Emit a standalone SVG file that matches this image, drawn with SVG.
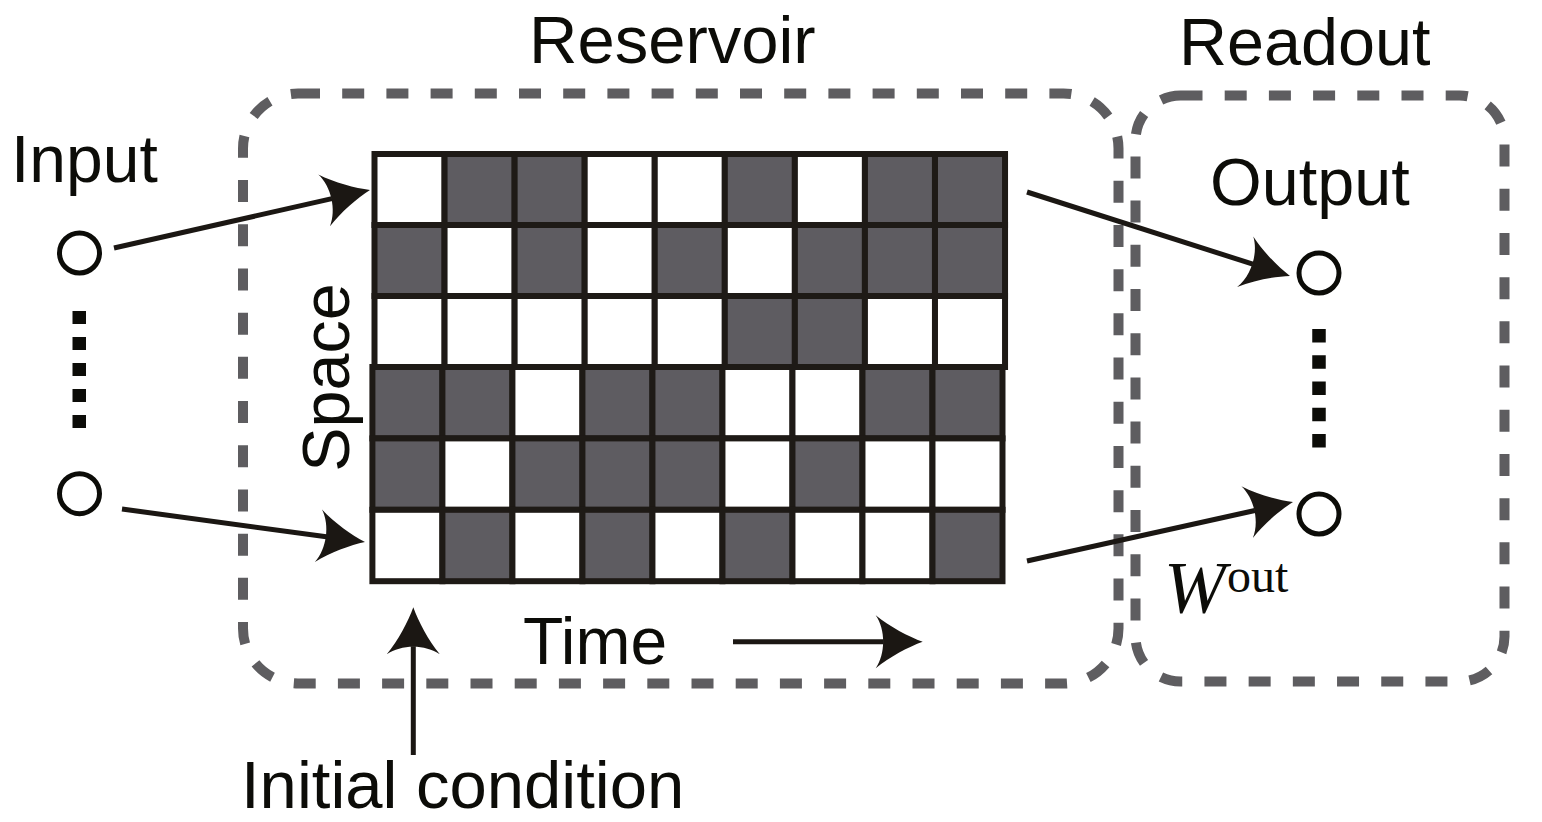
<svg xmlns="http://www.w3.org/2000/svg" width="1542" height="822" viewBox="0 0 1542 822">
<defs>
<style>
.txt{font-family:"Liberation Sans",Arial,sans-serif;fill:#0c0c08}
.box{fill:none;stroke:#5e5d60;stroke-width:10;stroke-dasharray:22 22.2}
.cw{fill:#ffffff;stroke:#1e1a16;stroke-width:6}
.cd{fill:#5e5c61;stroke:#1e1a16;stroke-width:6}
.arr{fill:none;stroke:#1b1713;stroke-width:5;marker-end:url(#ah)}
.node{fill:#ffffff;stroke:#0c0c08;stroke-width:5}
.dots{fill:none;stroke:#0c0c08;stroke-width:13.5}
.serif{font-family:"Liberation Serif","Times New Roman",serif;fill:#0c0c08}
</style>
<marker id="ah" markerUnits="userSpaceOnUse" viewBox="-50 -30 60 60" markerWidth="60" markerHeight="60" refX="-39" refY="0" orient="auto">
<path d="M0,0 C-14,-5 -33,-15 -47,-26.5 C-37,-12 -37,12 -47,26.5 C-33,15 -14,5 0,0 Z" fill="#1b1713"/>
</marker>
</defs>
<rect width="1542" height="822" fill="#ffffff"/>

<g id="reservoir-box">
<path class="box" d="M298,93.5 H1063.5 A55,55 0 0 1 1118.5,148.5 V628.5 A55,55 0 0 1 1063.5,683.5 H298 A55,55 0 0 1 243,628.5 V148.5 A55,55 0 0 1 298,93.5 Z"/>
<text class="txt" x="529" y="62.7" font-size="67">Reservoir</text>
</g>

<g id="readout-box">
<path class="box" d="M1180.5,95.5 H1459.5 A45,45 0 0 1 1504.5,140.5 V636.5 A45,45 0 0 1 1459.5,681.5 H1180.5 A45,45 0 0 1 1135.5,636.5 V140.5 A45,45 0 0 1 1180.5,95.5 Z"/>
<text class="txt" x="1179" y="65" font-size="66.5">Readout</text>
</g>

<g id="grid">
<g id="grid-top">
<rect class="cw" x="374.5" y="154" width="70.06" height="71"/>
<rect class="cd" x="444.56" y="154" width="70.06" height="71"/>
<rect class="cd" x="514.62" y="154" width="70.06" height="71"/>
<rect class="cw" x="584.68" y="154" width="70.06" height="71"/>
<rect class="cw" x="654.74" y="154" width="70.06" height="71"/>
<rect class="cd" x="724.8" y="154" width="70.06" height="71"/>
<rect class="cw" x="794.86" y="154" width="70.06" height="71"/>
<rect class="cd" x="864.92" y="154" width="70.06" height="71"/>
<rect class="cd" x="934.98" y="154" width="70.06" height="71"/>

<rect class="cd" x="374.5" y="225" width="70.06" height="71"/>
<rect class="cw" x="444.56" y="225" width="70.06" height="71"/>
<rect class="cd" x="514.62" y="225" width="70.06" height="71"/>
<rect class="cw" x="584.68" y="225" width="70.06" height="71"/>
<rect class="cd" x="654.74" y="225" width="70.06" height="71"/>
<rect class="cw" x="724.8" y="225" width="70.06" height="71"/>
<rect class="cd" x="794.86" y="225" width="70.06" height="71"/>
<rect class="cd" x="864.92" y="225" width="70.06" height="71"/>
<rect class="cd" x="934.98" y="225" width="70.06" height="71"/>

<rect class="cw" x="374.5" y="296" width="70.06" height="71"/>
<rect class="cw" x="444.56" y="296" width="70.06" height="71"/>
<rect class="cw" x="514.62" y="296" width="70.06" height="71"/>
<rect class="cw" x="584.68" y="296" width="70.06" height="71"/>
<rect class="cw" x="654.74" y="296" width="70.06" height="71"/>
<rect class="cd" x="724.8" y="296" width="70.06" height="71"/>
<rect class="cd" x="794.86" y="296" width="70.06" height="71"/>
<rect class="cw" x="864.92" y="296" width="70.06" height="71"/>
<rect class="cw" x="934.98" y="296" width="70.06" height="71"/>
</g>
<g id="grid-bottom">
<rect class="cd" x="372.4" y="367" width="70.01" height="71.4"/>
<rect class="cd" x="442.41" y="367" width="70.01" height="71.4"/>
<rect class="cw" x="512.42" y="367" width="70.01" height="71.4"/>
<rect class="cd" x="582.43" y="367" width="70.01" height="71.4"/>
<rect class="cd" x="652.44" y="367" width="70.01" height="71.4"/>
<rect class="cw" x="722.45" y="367" width="70.01" height="71.4"/>
<rect class="cw" x="792.46" y="367" width="70.01" height="71.4"/>
<rect class="cd" x="862.47" y="367" width="70.01" height="71.4"/>
<rect class="cd" x="932.48" y="367" width="70.01" height="71.4"/>

<rect class="cd" x="372.4" y="438.4" width="70.01" height="71.4"/>
<rect class="cw" x="442.41" y="438.4" width="70.01" height="71.4"/>
<rect class="cd" x="512.42" y="438.4" width="70.01" height="71.4"/>
<rect class="cd" x="582.43" y="438.4" width="70.01" height="71.4"/>
<rect class="cd" x="652.44" y="438.4" width="70.01" height="71.4"/>
<rect class="cw" x="722.45" y="438.4" width="70.01" height="71.4"/>
<rect class="cd" x="792.46" y="438.4" width="70.01" height="71.4"/>
<rect class="cw" x="862.47" y="438.4" width="70.01" height="71.4"/>
<rect class="cw" x="932.48" y="438.4" width="70.01" height="71.4"/>

<rect class="cw" x="372.4" y="509.8" width="70.01" height="71.4"/>
<rect class="cd" x="442.41" y="509.8" width="70.01" height="71.4"/>
<rect class="cw" x="512.42" y="509.8" width="70.01" height="71.4"/>
<rect class="cd" x="582.43" y="509.8" width="70.01" height="71.4"/>
<rect class="cw" x="652.44" y="509.8" width="70.01" height="71.4"/>
<rect class="cd" x="722.45" y="509.8" width="70.01" height="71.4"/>
<rect class="cw" x="792.46" y="509.8" width="70.01" height="71.4"/>
<rect class="cw" x="862.47" y="509.8" width="70.01" height="71.4"/>
<rect class="cd" x="932.48" y="509.8" width="70.01" height="71.4"/>
</g>
<text class="txt" font-size="66.5" text-anchor="middle" transform="translate(348.5,377.5) rotate(-90)">Space</text>
<text class="txt" x="523" y="664" font-size="66">Time</text>
</g>

<g id="input">
<text class="txt" x="11" y="181.7" font-size="66">Input</text>
<circle class="node" cx="79.5" cy="253" r="20"/>
<line class="dots" x1="79.25" y1="311" x2="79.25" y2="428" stroke-dasharray="13 13"/>
<circle class="node" cx="79.5" cy="493.7" r="20"/>
</g>

<g id="output">
<text class="txt" x="1210" y="205" font-size="66.5">Output</text>
<circle class="node" cx="1319" cy="273" r="20"/>
<line class="dots" x1="1319" y1="329" x2="1319" y2="448" stroke-dasharray="13.5 12.75"/>
<circle class="node" cx="1319" cy="514" r="20"/>
<text class="serif" x="1164" y="613" font-style="italic" font-size="74">W</text>
<text class="serif" x="1227" y="592" font-size="48">out</text>
</g>

<g id="initial-condition">
<text class="txt" x="241" y="808" font-size="67">Initial condition</text>
</g>

<g id="connectors">
<line class="arr" x1="114" y1="248" x2="331.96" y2="198.6"/>
<line class="arr" x1="122" y1="509" x2="326.35" y2="536.75"/>
<line class="arr" x1="1027" y1="192" x2="1252.85" y2="264.14"/>
<line class="arr" x1="1027" y1="561" x2="1254.93" y2="510.44"/>
<line class="arr" x1="733" y1="641.7" x2="883.7" y2="641.7"/>
<line class="arr" x1="413.3" y1="755" x2="413.3" y2="646.3"/>
</g>
</svg>
